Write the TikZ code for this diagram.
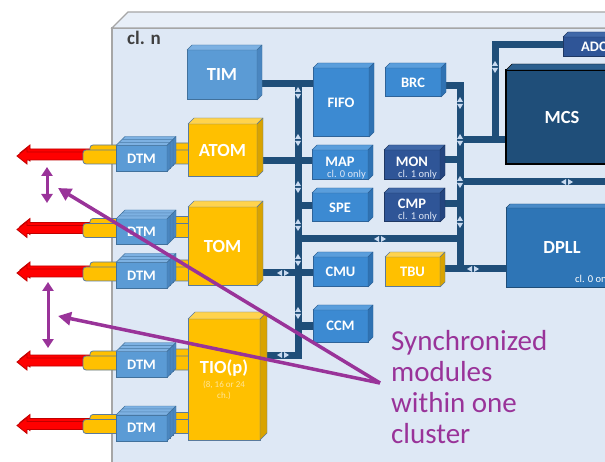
\documentclass[tikz,border=0pt]{standalone}
\usepackage{fontspec}
\setmainfont{Carlito}
\usetikzlibrary{arrows.meta}
\pgfdeclarelayer{panel}
\pgfdeclarelayer{bg}
\pgfsetlayers{panel,bg,main}

\definecolor{lbF}{HTML}{5B9BD5}\definecolor{lbT}{HTML}{7DB1E2}\definecolor{lbS}{HTML}{4A86C0}\definecolor{lbE}{HTML}{41719C}
\definecolor{mbF}{HTML}{3C8AD2}\definecolor{mbT}{HTML}{5A9EDC}\definecolor{mbS}{HTML}{2F72B3}\definecolor{mbE}{HTML}{2E6399}
\definecolor{dbF}{HTML}{2F5597}\definecolor{dbT}{HTML}{4068A8}\definecolor{dbS}{HTML}{24457F}\definecolor{dbE}{HTML}{1F3864}
\definecolor{nvF}{HTML}{1F4E79}\definecolor{nvT}{HTML}{2C5F8E}\definecolor{nvS}{HTML}{163A5C}\definecolor{nvE}{HTML}{000000}
\definecolor{dpF}{HTML}{2E75B6}\definecolor{dpT}{HTML}{4A8BC8}\definecolor{dpS}{HTML}{22609A}\definecolor{dpE}{HTML}{1F4E79}
\definecolor{yeF}{HTML}{FFC000}\definecolor{yeT}{HTML}{FFD34D}\definecolor{yeS}{HTML}{D9A300}\definecolor{yeE}{HTML}{5A7A9C}
\definecolor{busc}{HTML}{1F4E79}
\definecolor{markc}{HTML}{C9DAF0}
\definecolor{purp}{HTML}{993399}
\definecolor{redF}{HTML}{FF0000}\definecolor{redE}{HTML}{C00000}
\definecolor{panelF}{HTML}{DEE8F5}\definecolor{panelT}{HTML}{E8EFF8}\definecolor{panelE}{HTML}{A6A6A6}
\definecolor{subc}{HTML}{DDE6F5}
\definecolor{tiosub}{HTML}{FFE699}
\definecolor{clgray}{HTML}{404040}

\newcommand\fsz[1]{\fontsize{#1}{#1}\selectfont}
\newcommand\tiosmall{\mdseries\fontsize{9}{11}\selectfont\color{tiosub}}

% [opts]{type}{name}{pos}{w}{h}{depth}{text}
\newcommand\cube[8][]{%
  \node[cubebox, fill=#2F, draw=#2E, minimum width=#5, minimum height=#6, #1] (#3) at (#4) {#8};
  \filldraw[fill=#2T, draw=#2E, line join=round] (#3.north west) -- ++(#7,-#7) -- ([shift={(#7,-#7)}]#3.north east) -- (#3.north east) -- cycle;
  \filldraw[fill=#2S, draw=#2E, line join=round] (#3.north east) -- ++(#7,-#7) -- ([shift={(#7,-#7)}]#3.south east) -- (#3.south east) -- cycle;
}

\newcommand\redarr[2]{\filldraw[redar] (#1,#2) -- ++(10,-8) -- ++(0,4) -- ++(60,0) -- ++(0,8) -- ++(-60,0) -- ++(0,4) -- cycle;}

% {name}{cy}
\newcommand\dtmgroup[2]{%
  \redarr{20}{#2-5.5}
  \redarr{17}{#2-2.5}
  \filldraw[tab] (90,#2-13.5) rectangle (120,#2+1.5);
  \filldraw[tab] (172,#2-15.5) rectangle (194,#2-0.5);
  \filldraw[tab] (83,#2-8.5) rectangle (120,#2+5.5);
  \filldraw[tab] (160,#2-8.5) rectangle (194,#2+5.5);
  \cube{lb}{#1c}{147.5,#2-6}{51}{26}{3}{}
  \cube{lb}{#1b}{144.5,#2-3}{51}{26}{3}{}
  \cube[font=\bfseries\fsz{14.5}]{lb}{#1}{141.5,#2}{51}{26}{3}{DTM}
}

\begin{document}
\begin{tikzpicture}[x=1pt,y=-1pt,
  cubebox/.style={rectangle, outer sep=0pt, inner sep=0pt, line width=1pt, text=white, font=\bfseries\fsz{14.5}},
  big/.style={font=\bfseries\fsz{18.5}},
  sub/.style={font=\fsz{10.5}, text=subc, inner sep=0pt},
  tab/.style={fill=yeF, draw=yeE, rounded corners=3pt, line width=0.8pt},
  redar/.style={fill=redF, draw=redE, line width=0.8pt, line join=miter},
  bus/.style={draw=busc, line width=7pt},
  pline/.style={draw=purp, line width=3.5pt, -{Triangle[length=13pt,width=13pt]}},
  vline/.style={draw=purp, line width=3pt, {Triangle[length=9pt,width=11pt]}-{Triangle[length=9pt,width=11pt]}},
  vmark/.pic={\fill[markc] (-3,-1) -- (3,-1) -- (0,-6) -- cycle; \fill[markc] (-3,1) -- (3,1) -- (0,6) -- cycle;},
  hmark/.pic={\fill[markc] (-1,-3) -- (-1,3) -- (-6,0) -- cycle; \fill[markc] (1,-3) -- (1,3) -- (6,0) -- cycle;}
]
\useasboundingbox (0,0) rectangle (605,462);

% cluster panel
\begin{pgfonlayer}{panel}
  \fill[white] (0,0) rectangle (605,462);
  \filldraw[fill=panelF, draw=panelE, line width=1.2pt] (112,28) rectangle (640,480);
  \filldraw[fill=panelT, draw=panelE, line width=1.2pt] (112,28) -- (128,12) -- (640,12) -- (640,28) -- cycle;
\end{pgfonlayer}
\node[font=\bfseries\fsz{19}, text=clgray, anchor=west, inner sep=0pt] (cln) at (127,38) {cl. n};

% DTM rows
\dtmgroup{dtmA}{158.5}
\dtmgroup{dtmB}{232}
\dtmgroup{dtmC}{275.5}
\dtmgroup{dtmD}{364.5}
\dtmgroup{dtmE}{428}

% modules
\cube[big]{lb}{TIM}{222,75}{70}{50}{5}{TIM}
\cube[big]{ye}{ATOM}{222.5,150.5}{69}{53}{6}{ATOM}
\cube[big]{ye}{TOM}{222.5,246.5}{69}{79}{6}{TOM}
\cube[big, align=center]{ye}{TIO}{224,379.5}{72}{121}{7}{TIO(p)\\[-4.5pt]{\tiosmall (8, 16 or 24}\\[-7.5pt]{\tiosmall ch.)}}
\cube{mb}{FIFO}{341,102.5}{56}{69}{5}{FIFO}
\cube{mb}{BRC}{413,82.5}{56}{29}{5}{BRC}
\cube[text depth=7pt]{mb}{MAP}{340,165}{56}{30}{5}{MAP}
\cube[text depth=7pt]{db}{MON}{412,165}{56}{30}{5}{MON}
\cube{mb}{SPE}{340,207.5}{56}{29}{5}{SPE}
\cube[text depth=7pt]{db}{CMP}{412,207.5}{56}{29}{5}{CMP}
\cube{mb}{CMU}{340.5,272}{55}{30}{5}{CMU}
\cube{ye}{TBU}{412.5,272}{55}{30}{5}{TBU}
\cube{mb}{CCM}{340.5,326}{55}{32}{5}{CCM}
\cube[big, line width=1.5pt]{nv}{MCS}{562,117}{112}{94}{6}{MCS}
\cube{db}{ADC}{594,47}{62}{20}{5}{ADC}
\cube[big]{dp}{DPLL}{562,248}{112}{80}{4}{DPLL}

\node[sub, anchor=base east] (MAPs) at (366,178) {cl. 0 only};
\node[sub, anchor=base east] (MONs) at (437,178) {cl. 1 only};
\node[sub, anchor=base east] (CMPs) at (437,219.5) {cl. 1 only};
\node[sub, anchor=base west, text=white] (DPLLs) at (575,283) {cl. 0 only};

% buses
\begin{pgfonlayer}{bg}
  \coordinate (jA) at (298,84);
  \coordinate (jB) at (298,161);
  \coordinate (jC) at (298,206);
  \coordinate (jD) at (298,239);
  \coordinate (jE) at (298,273);
  \coordinate (jF) at (298,326);
  \coordinate (jG) at (298,355);
  \coordinate (rA) at (460,85.5);
  \coordinate (rB) at (460,269);
  \coordinate (rC) at (460,140);
  \coordinate (rD) at (460,160);
  \coordinate (rE) at (460,182);
  \coordinate (rF) at (460,204);
  \coordinate (rD2) at (460,239);
  \coordinate (aA) at (495,140);
  \coordinate (aB) at (495,45);
  \coordinate (eR) at (615,182);

  \draw[bus, line cap=rect] (jA) -- (jG);
  \draw[bus, line cap=rect] (rA) -- (rB);
  \draw[bus] (TIM |- jA) -- (FIFO |- jA);
  \draw[bus] (ATOM |- jB) -- (MAP |- jB);
  \draw[bus] (jC) -- (SPE |- jC);
  \draw[bus] (jD) -- (rD2);
  \draw[bus] (TOM |- jE) -- (CMU |- jE);
  \draw[bus] (jF) -- (CCM |- jF);
  \draw[bus] (TIO |- jG) -- (jG);
  \draw[bus] (BRC |- rA) -- (rA);
  \draw[bus] (rC) -- (MCS |- rC);
  \draw[bus, line join=miter] (aA) -- (aB) -- (ADC |- aB);
  \draw[bus] (MON |- rD) -- (rD);
  \draw[bus] (rE) -- (eR);
  \draw[bus] (CMP |- rF) -- (rF);
  \draw[bus] (TBU |- rB) -- (DPLL |- rB);

  \foreach \yy in {93,140,187,225,260,313} \pic at (298,\yy) {vmark};
  \foreach \yy in {103,140,182,222} \pic at (460,\yy) {vmark};
  \pic at (495,67) {vmark};
  \pic at (380,239) {hmark};
  \pic at (283,273) {hmark};
  \pic at (283,355) {hmark};
  \pic at (567,182) {hmark};
  \pic at (473,269) {hmark};
\end{pgfonlayer}

% synchronization annotation
\node[font=\fontsize{29}{31}\selectfont, text=purp, anchor=north west, align=left, inner sep=0pt] (sync) at (391,330) {Synchronized\\modules\\within one\\cluster};
\coordinate (conv) at (380,383);
\coordinate (tA) at (58,188);
\coordinate (tB) at (58,316);
\draw[pline] (conv) -- (tA);
\draw[pline] (conv) -- (tB);
\coordinate (vA1) at (47,167);
\coordinate (vA2) at (47,203);
\coordinate (vB1) at (48,282);
\coordinate (vB2) at (48,348);
\draw[vline] (vA1) -- (vA2);
\draw[vline] (vB1) -- (vB2);
\end{tikzpicture}
\end{document}
